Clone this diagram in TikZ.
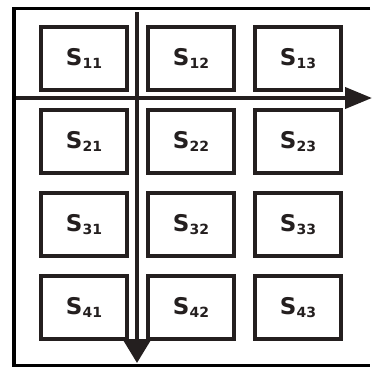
\documentclass[tikz,border=0pt]{standalone}
\usepackage{fontspec}
\setmainfont{DejaVu Sans}
\usetikzlibrary{arrows.meta,positioning}
\definecolor{ink}{rgb}{0.14,0.12,0.12}
\newcommand{\slab}[1]{\raisebox{-2pt}{{\fontsize{23}{23}\selectfont\bfseries S}{\fontsize{14}{14}\selectfont\bfseries\raisebox{-2.5pt}{#1}}}}

\begin{document}
\begin{tikzpicture}[x=1pt,y=-1pt]
\tikzstyle{cell}=[draw=ink,line width=4pt,minimum width=86pt,minimum height=63pt,inner sep=0pt,text=ink]
\tikzstyle{axis}=[draw=ink,line width=4pt]
\useasboundingbox (0,0) rectangle (372,367);
% frame, open on the right
\draw [line width=3.5pt] (370,8.5) -- (14,8.5) -- (14,365.5) -- (370,365.5);
% the cells
\node [cell] at (84,58.5) (s11) {\slab{11}};
\node [cell,right=17pt of s11] (s12) {\slab{12}};
\node [cell,right=17pt of s12] (s13) {\slab{13}};
\node [cell,below=16pt of s11] (s21) {\slab{21}};
\node [cell,right=17pt of s21] (s22) {\slab{22}};
\node [cell,right=17pt of s22] (s23) {\slab{23}};
\node [cell,below=16pt of s21] (s31) {\slab{31}};
\node [cell,right=17pt of s31] (s32) {\slab{32}};
\node [cell,right=17pt of s32] (s33) {\slab{33}};
\node [cell,below=16pt of s31] (s41) {\slab{41}};
\node [cell,right=17pt of s41] (s42) {\slab{42}};
\node [cell,right=17pt of s42] (s43) {\slab{43}};
% the two arrows
\coordinate (hbeg) at (16,98);
\coordinate (hend) at (372,98);
\coordinate (vbeg) at (137,12);
\coordinate (vend) at (137,363);
\draw [axis,-{Triangle[length=27pt,width=21pt]}] (hbeg) -- (hend);
\draw [axis,-{Triangle[length=24pt,width=28pt]}] (vbeg) -- (vend);
\end{tikzpicture}
\end{document}
